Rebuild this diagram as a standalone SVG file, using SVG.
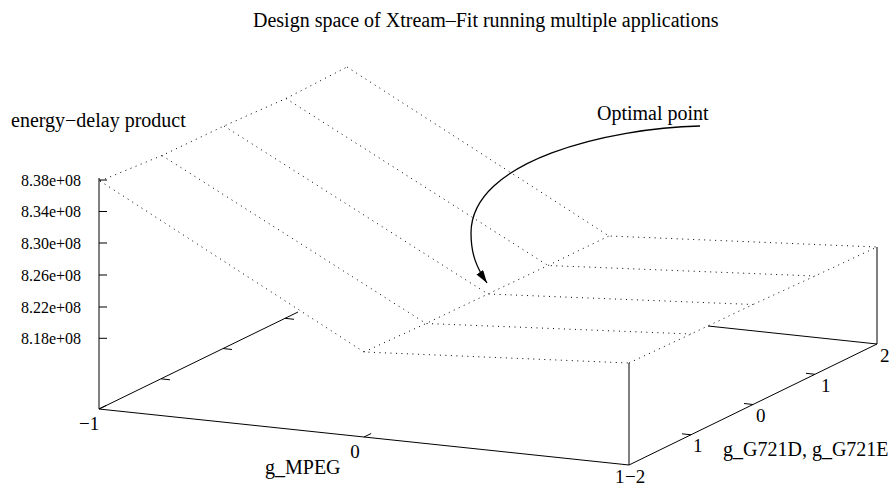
<svg xmlns="http://www.w3.org/2000/svg" width="893" height="489" viewBox="0 0 893 489">
  <style>
    text { font-family: "Liberation Serif", "Times New Roman", serif; fill: #000; }
    .title { font-size: 20px; }
    .lab { font-size: 20px; }
    .ztl { font-size: 16px; text-anchor: end; }
    .tl { font-size: 19px; }
    .axis { stroke: #000; stroke-width: 1; fill: none; }
    .tick { stroke: #000; stroke-width: 1; fill: none; }
    .grid { stroke: #000; stroke-width: 1; stroke-dasharray: 1 4.5; fill: none; }
    .curve { stroke: #000; stroke-width: 1.3; fill: none; }
  </style>
  <defs>
    <marker id="arrowhead" markerUnits="userSpaceOnUse" markerWidth="16" markerHeight="10" refX="13" refY="4" orient="auto">
      <path d="M0,0 L13,4 L0,8 Z" fill="#000"/>
    </marker>
  </defs>

  <rect width="893" height="489" fill="#fff"/>

  <g id="title">
    <text class="title" x="253" y="27">Design space of Xtream–Fit running multiple applications</text>
  </g>

  <!-- base frame of the 3D box -->
  <g id="base">
    <path class="axis" d="M99,409 L629,465 L877,344"/>
    <path class="axis" d="M99,409 L298,312"/>
    <path class="axis" d="M708,326 L877,344"/>
    <path class="axis" d="M629,465 L629,363"/>
    <path class="axis" d="M877,344 L877,247"/>
  </g>

  <!-- vertical energy-delay axis -->
  <g id="z-axis">
    <path class="axis" d="M99,178 L99,409"/>
    <path class="tick" d="M99,180 h8 M99,211.5 h8 M99,243 h8 M99,275 h8 M99,307 h8 M99,338.3 h8"/>
    <text class="ztl" x="81" y="185.5">8.38e+08</text>
    <text class="ztl" x="81" y="217">8.34e+08</text>
    <text class="ztl" x="81" y="248.5">8.30e+08</text>
    <text class="ztl" x="81" y="280.5">8.26e+08</text>
    <text class="ztl" x="81" y="312.5">8.22e+08</text>
    <text class="ztl" x="81" y="344">8.18e+08</text>
    <text class="lab" x="11" y="127">energy−delay product</text>
  </g>

  <!-- g_MPEG axis -->
  <g id="x-axis">
    <path class="tick" d="M364,437 l7.2,-3.5 M99,409 l7.2,-3.5"/>
    <text class="tl" x="79" y="430">−1</text>
    <text class="tl" x="355" y="458" text-anchor="middle">0</text>
    <text class="tl" x="615" y="483">1</text>
    <text class="lab" x="265" y="474">g_MPEG</text>
  </g>

  <!-- g_G721D, g_G721E axis -->
  <g id="y-axis">
    <path class="tick" d="M691,434.8 l-9,-1 M753,404.5 l-9,-1 M815,374.3 l-9,-1"/>
    <path class="tick" d="M161,378.8 l9,1 M223,348.5 l9,1 M285,318.3 l9,1"/>
    <text class="tl" x="625" y="483">−2</text>
    <text class="tl" x="693" y="452">1</text>
    <text class="tl" x="756" y="422">0</text>
    <text class="tl" x="821" y="392">1</text>
    <text class="tl" x="880" y="362">2</text>
    <text class="lab" x="723" y="456">g_G721D, g_G721E</text>
  </g>

  <!-- surface mesh -->
  <g id="surface">
    <path class="grid" d="M100,181 L162,155.5 L224,126 L286,98.5 L347,67"/>
    <path class="grid" d="M364,352 L426,323.5 L488,294 L548,265.5 L609,236"/>
    <path class="grid" d="M629,363 L691,334 L753,304.5 L815,276 L877,247"/>
    <path class="grid" d="M100,181 L364,352 L629,363"/>
    <path class="grid" d="M162,155.5 L426,323.5 L691,334"/>
    <path class="grid" d="M224,126 L488,294 L753,304.5"/>
    <path class="grid" d="M286,98.5 L548,265.5 L815,276"/>
    <path class="grid" d="M347,67 L609,236 L877,247"/>
  </g>

  <g id="optimal-label">
    <text class="lab" x="597" y="120">Optimal point</text>
  </g>

  <g id="connectors">
    <path class="curve" d="M700,126 C610,128 471,160 471,233 C471,255 477,268 487,283" marker-end="url(#arrowhead)"/>
  </g>
</svg>
